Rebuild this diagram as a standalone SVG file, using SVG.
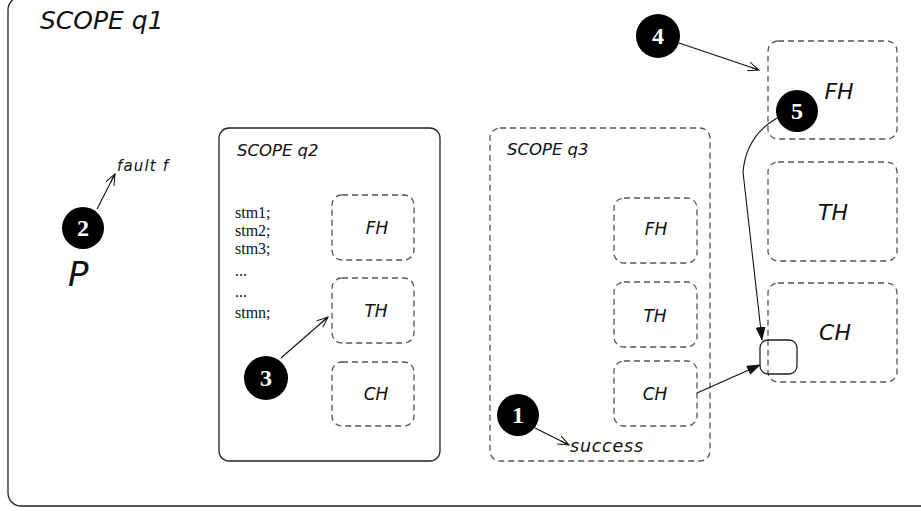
<svg xmlns="http://www.w3.org/2000/svg" width="921" height="511" viewBox="0 0 921 511">
<defs>
<style>
.frame{fill:none;stroke:#222;stroke-width:1.3}
.dash{fill:none;stroke:#555;stroke-width:1.3;stroke-dasharray:6 4}
.sans{font-family:"DejaVu Sans","Liberation Sans",sans-serif;font-style:italic;fill:#111}
.serif{font-family:"Liberation Serif","DejaVu Serif",serif;fill:#111;font-size:16px}
.num{font-family:"Liberation Serif","DejaVu Serif",serif;font-weight:bold;fill:#fff;font-size:24px;text-anchor:middle}
.ball{fill:#000}
.line{fill:none;stroke:#111;stroke-width:1.1}
.lbl{text-anchor:middle;font-size:17px}
.big{text-anchor:middle;font-size:22px}
</style>
<marker id="open" viewBox="0 0 12 10" refX="11" refY="5" markerWidth="12" markerHeight="10" markerUnits="userSpaceOnUse" orient="auto">
<path d="M0,0.5 L11,5 L0,9.5 M2,5 L11,5" fill="none" stroke="#111" stroke-width="1"/>
</marker>
<marker id="fill" viewBox="0 0 14 10" refX="13" refY="5" markerWidth="14" markerHeight="10" markerUnits="userSpaceOnUse" orient="auto">
<path d="M0,0 L14,5 L0,10 Z" fill="#111"/>
</marker>
</defs>
<rect width="921" height="511" fill="#fff"/>

<g id="scope-q1">
<rect class="frame" x="8" y="-3" width="960" height="509" rx="13"/>
<text class="sans" x="40" y="29" font-size="25">SCOPE q1</text>
</g>

<g id="process-p">
<text class="sans" x="68" y="286" font-size="34">P</text>
<text class="sans" x="117" y="171" font-size="15" textLength="51">fault f</text>
</g>

<g id="scope-q2">
<rect class="frame" x="219" y="128" width="221" height="333" rx="10"/>
<text class="sans" x="237" y="156" font-size="16.5">SCOPE q2</text>
<text class="serif" x="235" y="218">stm1;</text>
<text class="serif" x="235" y="236">stm2;</text>
<text class="serif" x="235" y="254">stm3;</text>
<text class="serif" x="235" y="276">...</text>
<text class="serif" x="235" y="297">...</text>
<text class="serif" x="235" y="318">stmn;</text>
</g>
<g id="q2-fh"><rect class="dash" x="332" y="195" width="82" height="65" rx="10"/><text class="sans lbl" x="377" y="234">FH</text></g>
<g id="q2-th"><rect class="dash" x="332" y="278" width="82" height="65" rx="10"/><text class="sans lbl" x="376" y="317">TH</text></g>
<g id="q2-ch"><rect class="dash" x="332" y="362" width="82" height="64" rx="10"/><text class="sans lbl" x="376" y="400">CH</text></g>

<g id="scope-q3">
<rect class="dash" x="490" y="128" width="220" height="333" rx="10"/>
<text class="sans" x="507" y="155" font-size="16.5">SCOPE q3</text>
<text class="sans" x="570" y="452" font-size="17.5" textLength="73">success</text>
</g>
<g id="q3-fh"><rect class="dash" x="614" y="198" width="83" height="65" rx="10"/><text class="sans lbl" x="656" y="235">FH</text></g>
<g id="q3-th"><rect class="dash" x="614" y="282" width="83" height="65" rx="10"/><text class="sans lbl" x="655" y="322">TH</text></g>
<g id="q3-ch"><rect class="dash" x="614" y="361" width="83" height="65" rx="10"/><text class="sans lbl" x="655" y="400">CH</text></g>

<g id="q1-fh"><rect class="dash" x="768" y="41" width="129" height="98" rx="10"/><text class="sans big" x="839" y="99">FH</text></g>
<g id="q1-th"><rect class="dash" x="768" y="162" width="129" height="99" rx="10"/><text class="sans big" x="833" y="220">TH</text></g>
<g id="q1-ch"><rect class="dash" x="768" y="283" width="129" height="99" rx="10"/><text class="sans big" x="835" y="340">CH</text></g>
<g id="compensation-point"><rect class="frame" x="760" y="340" width="37" height="34" rx="8"/></g>

<g id="connectors">
<path class="line" d="M97,209 L115,174" marker-end="url(#open)"/>
<path class="line" d="M281,358 L328,317" marker-end="url(#open)"/>
<path class="line" d="M535,428 L569,445" marker-end="url(#open)"/>
<path class="line" d="M679,43 L759,70" marker-end="url(#open)"/>
<path class="line" d="M777,118 Q746,136 743,172 L762,340" marker-end="url(#fill)"/>
<path class="line" d="M697,393 L760,365" marker-end="url(#fill)"/>
</g>

<g id="step-1"><circle class="ball" cx="518" cy="415" r="21"/><text class="num" x="518" y="423">1</text></g>
<g id="step-2"><circle class="ball" cx="83" cy="228" r="21"/><text class="num" x="83" y="236">2</text></g>
<g id="step-3"><circle class="ball" cx="266" cy="378" r="22"/><text class="num" x="266" y="386">3</text></g>
<g id="step-4"><circle class="ball" cx="658" cy="36" r="22"/><text class="num" x="658" y="44">4</text></g>
<g id="step-5"><circle class="ball" cx="797" cy="111" r="21"/><text class="num" x="797" y="119">5</text></g>
</svg>
